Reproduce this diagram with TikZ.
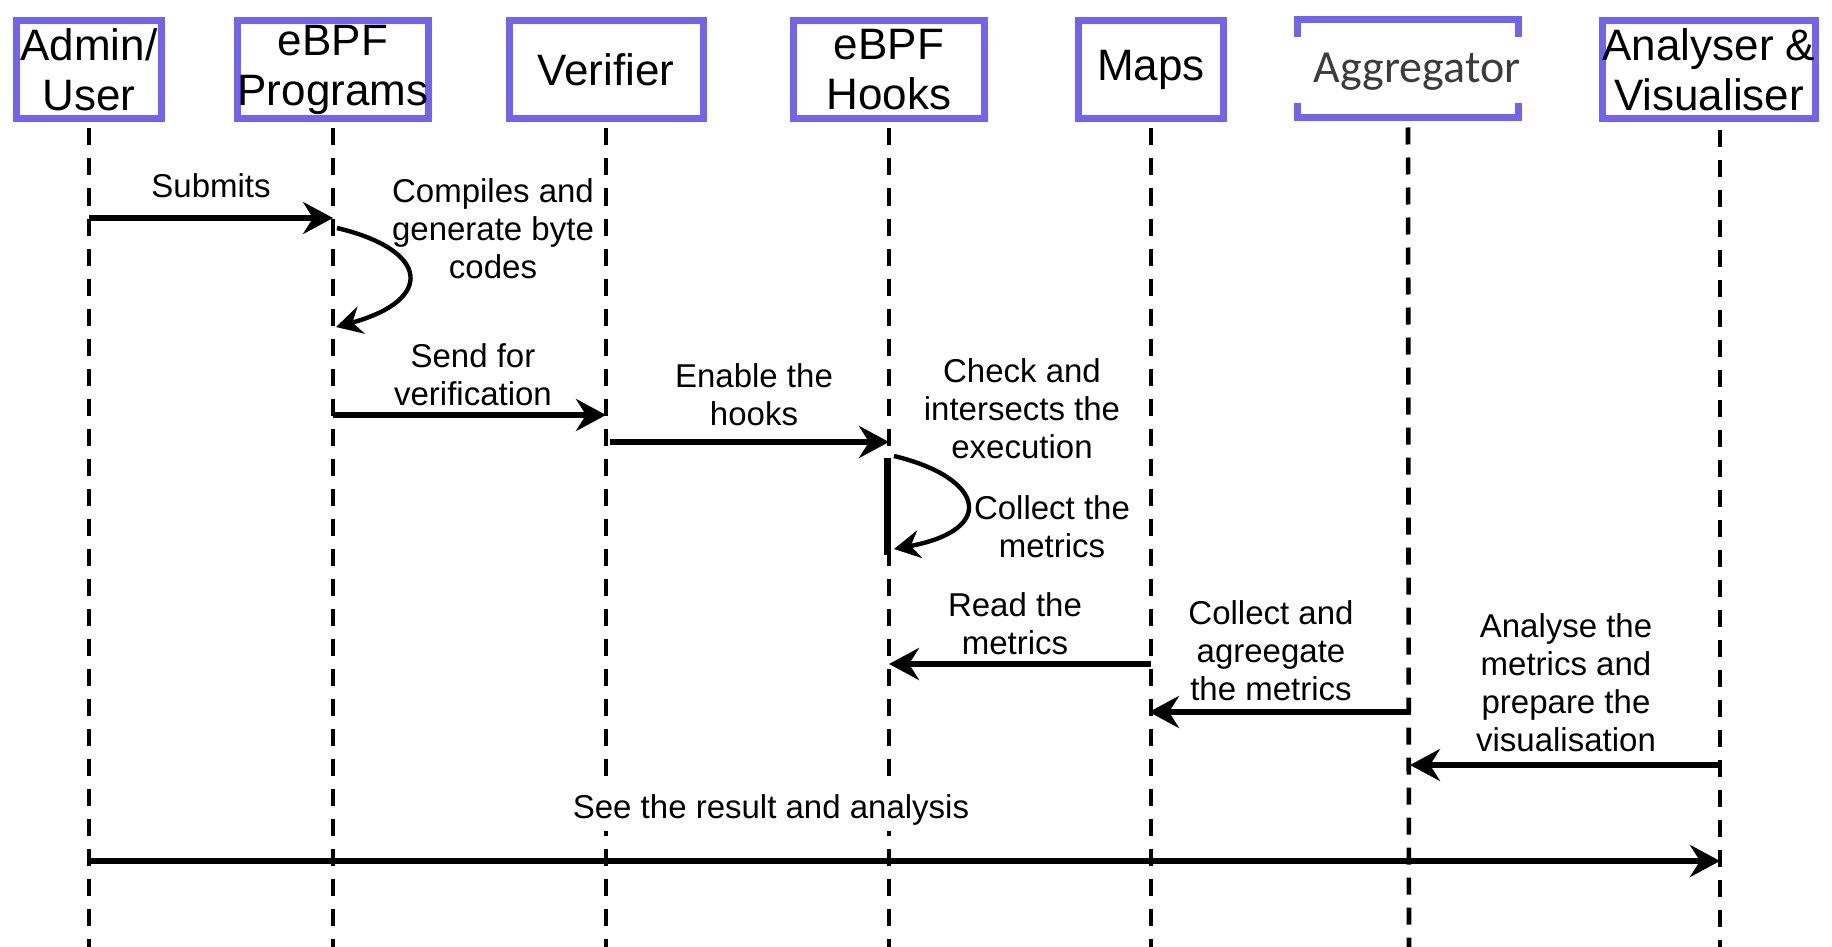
\documentclass[tikz,border=0pt]{standalone}
\usepackage{fontspec}
\setmainfont{Liberation Sans}
\newfontfamily\aggfont{Carlito}
\usetikzlibrary{arrows.meta}
\definecolor{boxblue}{RGB}{112,100,240}
\definecolor{aggtext}{RGB}{60,60,60}
\begin{document}
\begin{tikzpicture}[x=0.5pt,y=-0.5pt,
  actor/.style={draw=boxblue, line width=3.5pt, fill=white, inner sep=0pt, align=center, minimum height=49pt, font=\fontsize{22}{25}\selectfont},
  lifeline/.style={line width=2.3pt, dash pattern=on 8.5pt off 6.5pt},
  msg/.style={line width=3pt, -{Stealth[length=15pt,width=16pt,inset=5pt]}},
  selfmsg/.style={line width=2.2pt, -{Stealth[length=13pt,width=14pt,inset=4.5pt]}},
  lbl/.style={align=center, font=\fontsize{16.5}{19}\selectfont, inner sep=1pt}
]
\useasboundingbox (0,0) rectangle (1832,947);
% actors
\node[actor, minimum width=72.5pt] (admin) at (89,70) {Admin/\\User};
\node[actor, minimum width=95.5pt] (prog) at (333,70) {eBPF\\Programs};
\node[actor, minimum width=97pt] (veri) at (606,70) {Verifier};
\node[actor, minimum width=95.5pt] (hooks) at (889,70) {eBPF\\Hooks};
\node[actor, minimum width=72.5pt] (maps) at (1151,70) {Maps};
\node[actor, minimum width=110.5pt] (agg) at (1408,69) {};
\node[fill=white, minimum width=119pt, minimum height=33pt, inner sep=0pt] (aggbg) at (1408,70) {};
\node[inner sep=0pt, text=aggtext, font=\aggfont\fontsize{23}{25}\selectfont] (aggt) at (1417,72) {Aggregator};
\node[actor, minimum width=104.5pt] (anal) at (1709,70) {Analyser \&\\Visualiser};
% lifeline ends
\coordinate (admB) at (89,947);
\coordinate (progB) at (333,947);
\coordinate (veriB) at (606,947);
\coordinate (hookB) at (889,947);
\coordinate (mapsB) at (1151,947);
\coordinate (aggB) at (1409,947);
\coordinate (analT) at (1720,124);
\coordinate (analB) at (1720,947);
\draw[lifeline] ([yshift=-3pt]admin.south) -- (admB);
\draw[lifeline] ([yshift=-3pt]prog.south) -- (progB);
\draw[lifeline] ([yshift=-3pt]veri.south) -- (veriB);
\draw[lifeline] ([yshift=-3pt]hooks.south) -- (hookB);
\draw[lifeline] ([yshift=-3pt]maps.south) -- (mapsB);
\draw[lifeline] ([yshift=-3pt]agg.south) -- (aggB);
\draw[lifeline] ([yshift=-3pt]analT) -- (analB);
% message points
\coordinate (a1) at (89,218);  \coordinate (p1) at (333,218);
\coordinate (p2) at (337,228); \coordinate (p3) at (336,327);
\coordinate (p4) at (333,415); \coordinate (v1) at (606,415);
\coordinate (v2) at (610,442); \coordinate (h1) at (889,442);
\coordinate (h2) at (894,456); \coordinate (h3) at (894,549);
\coordinate (barT) at (887,458); \coordinate (barB) at (887,555);
\coordinate (m1) at (1151,664); \coordinate (h4) at (889,664);
\coordinate (g1) at (1410,712); \coordinate (m2) at (1149,712);
\coordinate (z1) at (1722,765); \coordinate (g2) at (1410,765);
\coordinate (a2) at (89,861);  \coordinate (z2) at (1720,861);
% activation bar
\draw[line width=3.5pt] (barT) -- (barB);
% messages
\draw[msg] (a1) -- (p1);
\node[lbl] (t1) at (211,186) {Submits};
\draw[selfmsg] (p2) .. controls (430,250) and (435,300) .. (p3);
\node[lbl] (t2) at (493,229) {Compiles and\\generate byte\\codes};
\draw[msg] (p4) -- (v1);
\node[lbl] (t3) at (473,375) {Send for\\verification};
\draw[msg] (v2) -- (h1);
\node[lbl] (t4) at (754,395) {Enable the\\hooks};
\draw[selfmsg] (h2) .. controls (985,478) and (997,530) .. (h3);
\node[lbl] (t5) at (1022,409) {Check and\\intersects the\\execution};
\node[lbl] (t6) at (1052,527) {Collect the\\metrics};
\draw[msg] (m1) -- (h4);
\node[lbl] (t7) at (1015,624) {Read the\\metrics};
\draw[msg] (g1) -- (m2);
\node[lbl] (t8) at (1271,651) {Collect and\\agreegate\\the metrics};
\draw[msg] (z1) -- (g2);
\node[lbl] (t9) at (1566,683) {Analyse the\\metrics and\\prepare the\\visualisation};
\draw[msg] (a2) -- (z2);
\node[lbl, fill=white, inner sep=3pt] (t10) at (771,810) {See the result and analysis};
\end{tikzpicture}
\end{document}
